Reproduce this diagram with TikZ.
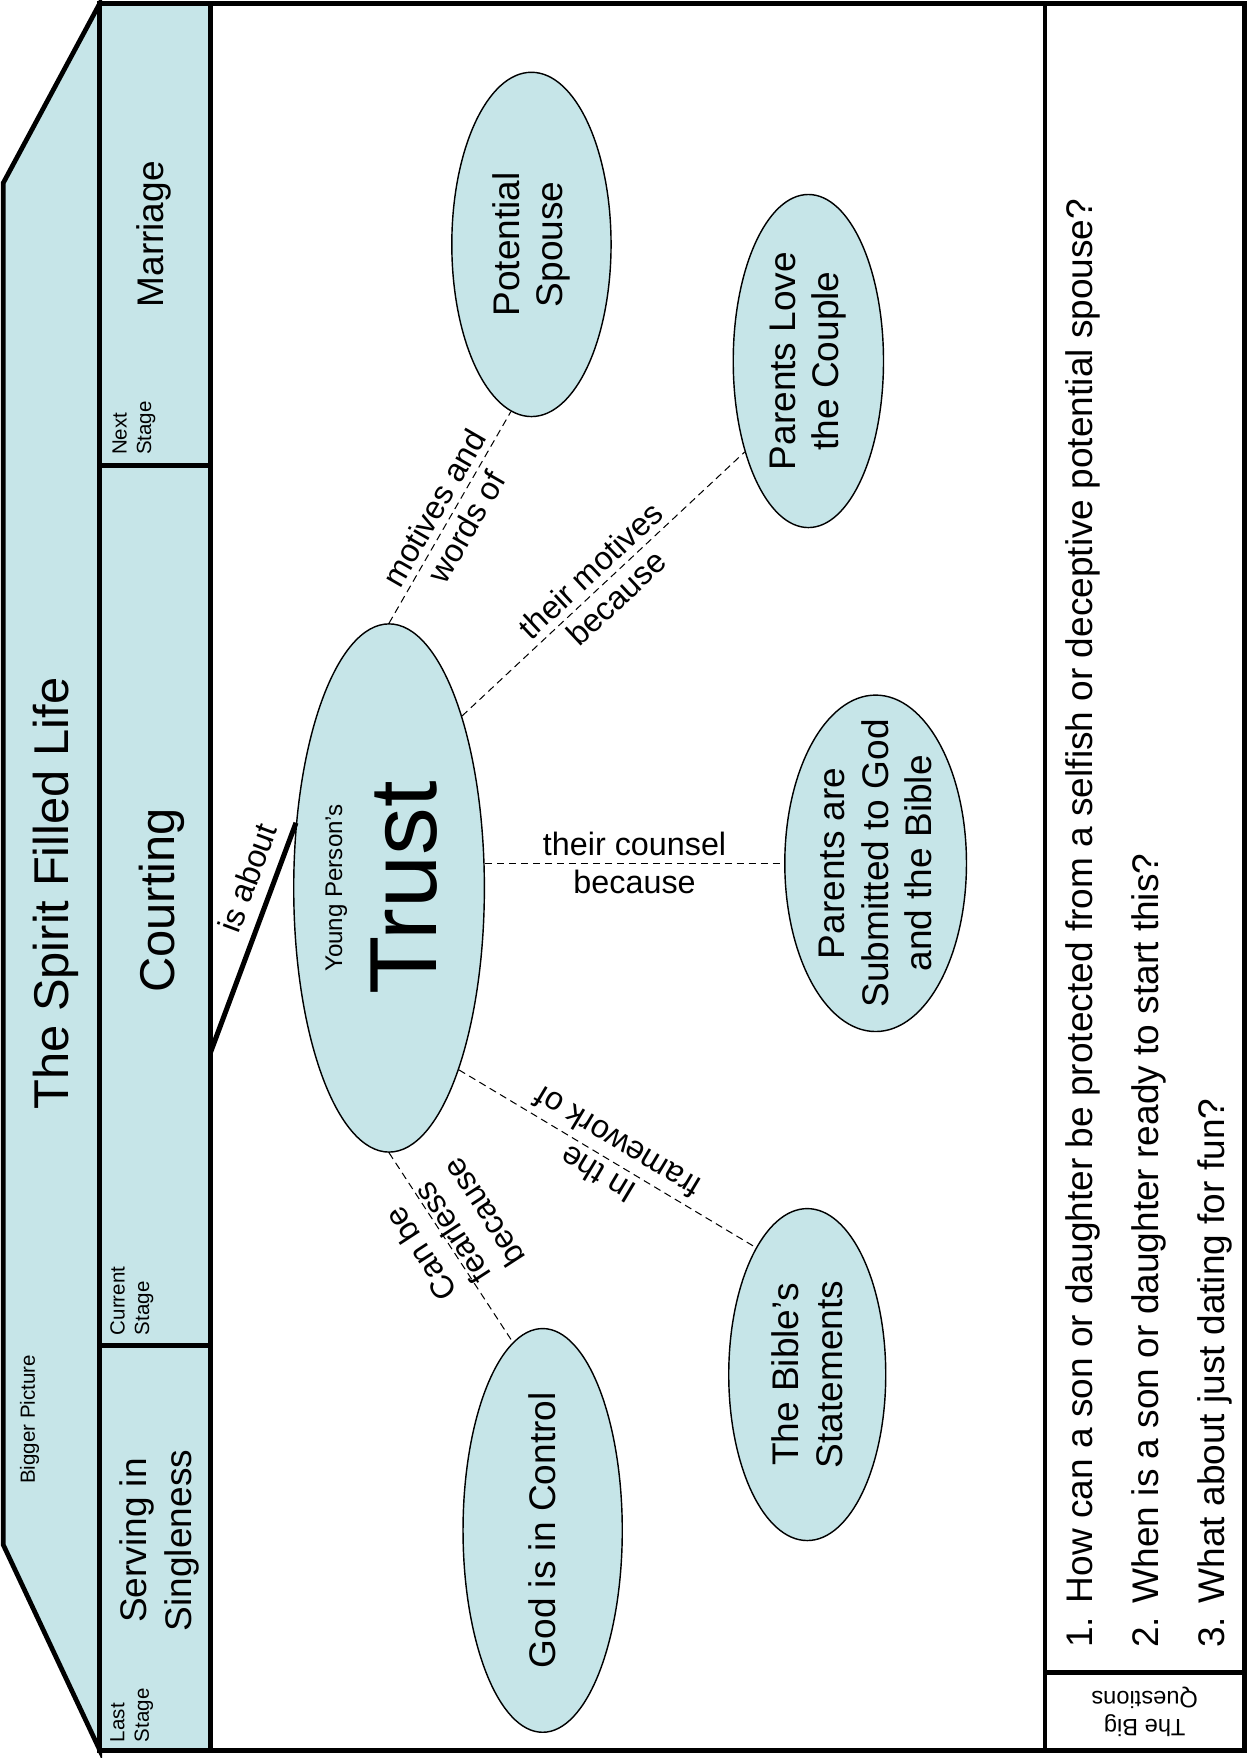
\documentclass[tikz,border=0pt]{standalone}
\usepackage{fontspec}
\setmainfont{Liberation Sans}
\usetikzlibrary{shapes,positioning}

\definecolor{paleblue}{RGB}{198,229,232}

\begin{document}
\begin{tikzpicture}[x=0.025cm, y=-0.025cm]
			\tikzstyle{Frame}	= [line width=3pt]
			\tikzstyle{Bubble}	= [ellipse, draw, fill=paleblue, line width=0.9pt, inner sep=0pt]
			\tikzstyle{Link}	= [line width=0.65pt, dash pattern=on 4.6pt off 3pt]
			\tikzstyle{About}	= [line width=3.2pt]
			\tikzstyle{Title}	= [font=\fontsize{31}{37}\selectfont, rotate=90, anchor=base, inner sep=0pt]
			\tikzstyle{Body}	= [font=\fontsize{23.5}{27.5}\selectfont, align=center, inner sep=0pt]
			\tikzstyle{Note}	= [font=\fontsize{13}{15.6}\selectfont, rotate=90, anchor=north west, align=left, inner sep=0pt]
			\tikzstyle{LinkText}	= [font=\fontsize{20.5}{24}\selectfont, align=center, inner sep=0pt]

			\useasboundingbox (0,0) rectangle (1112,1568);

			% bigger picture and the stages
			\draw [Frame, fill=paleblue] (89,3) -- (3,163) -- (3,1378) -- (89,1561) -- cycle;
			\foreach \a/\b in {3/415, 415/1200, 1200/1561}
				\draw [Frame, fill=paleblue] (89,\a) rectangle (188,\b);
			\draw [Frame] (188,3) -- (1110,3) -- (1110,1561) -- (188,1561);
			\draw [Frame] (932,3) -- (932,1561);
			\draw [Frame] (932,1492) -- (1110,1492);

			\node (bigger) at (31,1266) [Title, font=\fontsize{13}{15.6}\selectfont] {Bigger Picture};
			\node (spirit) at (61,797) [Title] {The Spirit Filled Life};
			\node (marriage) at (146,209) [Title, font=\fontsize{23.5}{27.5}\selectfont] {Marriage};
			\node (courting) at (156,803) [Title] {Courting};
			\node (serving) at (142.5,1374) [Body, rotate=90, font=\fontsize{23.5}{28.5}\selectfont] {Serving in\\Singleness};
			\node (nextnote) at (100,406) [Note] {Next\\Stage};
			\node (currentnote) at (98,1191) [Note] {Current\\Stage};
			\node (lastnote) at (98,1554) [Note] {Last\\Stage};

			% the bubbles
			\node (trust) at (347,792) [Bubble, minimum width=4.25cm, minimum height=11.775cm,
				label={[Body, font=\fontsize{60.5}{60}\selectfont, xshift=-4.8pt, rotate=90]center:{{\fontsize{15.3}{18}\selectfont Young Person’s}\\Trust}}] {};
			\foreach \bname/\cx/\cy/\bw/\bh/\txt in {spouse/474/218/3.55/7.675/{Potential\\Spouse}, love/721/322/3.35/7.425/{Parents Love\\the Couple}, submit/781/770/4.05/7.5/{Parents are\\Submitted to God\\and the Bible}, statements/720/1226/3.5/7.4/{The Bible’s\\Statements}, control/484/1365/3.55/9/{God is in Control}}
				\node (\bname) at (\cx,\cy) [Bubble, minimum width=\bw cm, minimum height=\bh cm, label={[Body, rotate=90]center:{\txt}}] {};

			% dashed links
			\draw [Link] (trust.north) to node[LinkText, sloped] (wordslabel) {motives and\\words of} (spouse.263);
			\draw [Link] (trust.67) to node[LinkText, sloped] (motiveslabel) {their motives\\because} (love.235);
			\draw [Link] (trust.east |- submit.west) to node[LinkText] (counsellabel) {their counsel\\because} (submit.west);
			\draw [Link] (trust.-69) to node[LinkText, rotate=149] (frameworklabel) {In the\\framework of} (statements.112);
			\draw [Link] (trust.south) to (control.99);
			\node (fearlesslabel) at (403,1100) [LinkText, rotate=123] {Can be\\fearless\\because};

			\coordinate (aboutfoot) at (188,938);
			\draw [About] (aboutfoot) -- (trust.145) node[LinkText, pos=0.72, sloped, above=7.5pt] (aboutlabel) {is about};

			% the big questions
			\node (questions) at (950,1470) [Body, rotate=90, anchor=north west, align=left, font=\fontsize{23.5}{42}\selectfont] {1. How can a son or daughter be protected from a selfish or deceptive potential spouse?\\2. When is a son or daughter ready to start this?\\3. What about just dating for fun?};
			\node (bigquestions) at (1021,1527) [Body, rotate=180, font=\fontsize{15}{18}\selectfont] {The Big\\Questions};
\end{tikzpicture}
\end{document}
